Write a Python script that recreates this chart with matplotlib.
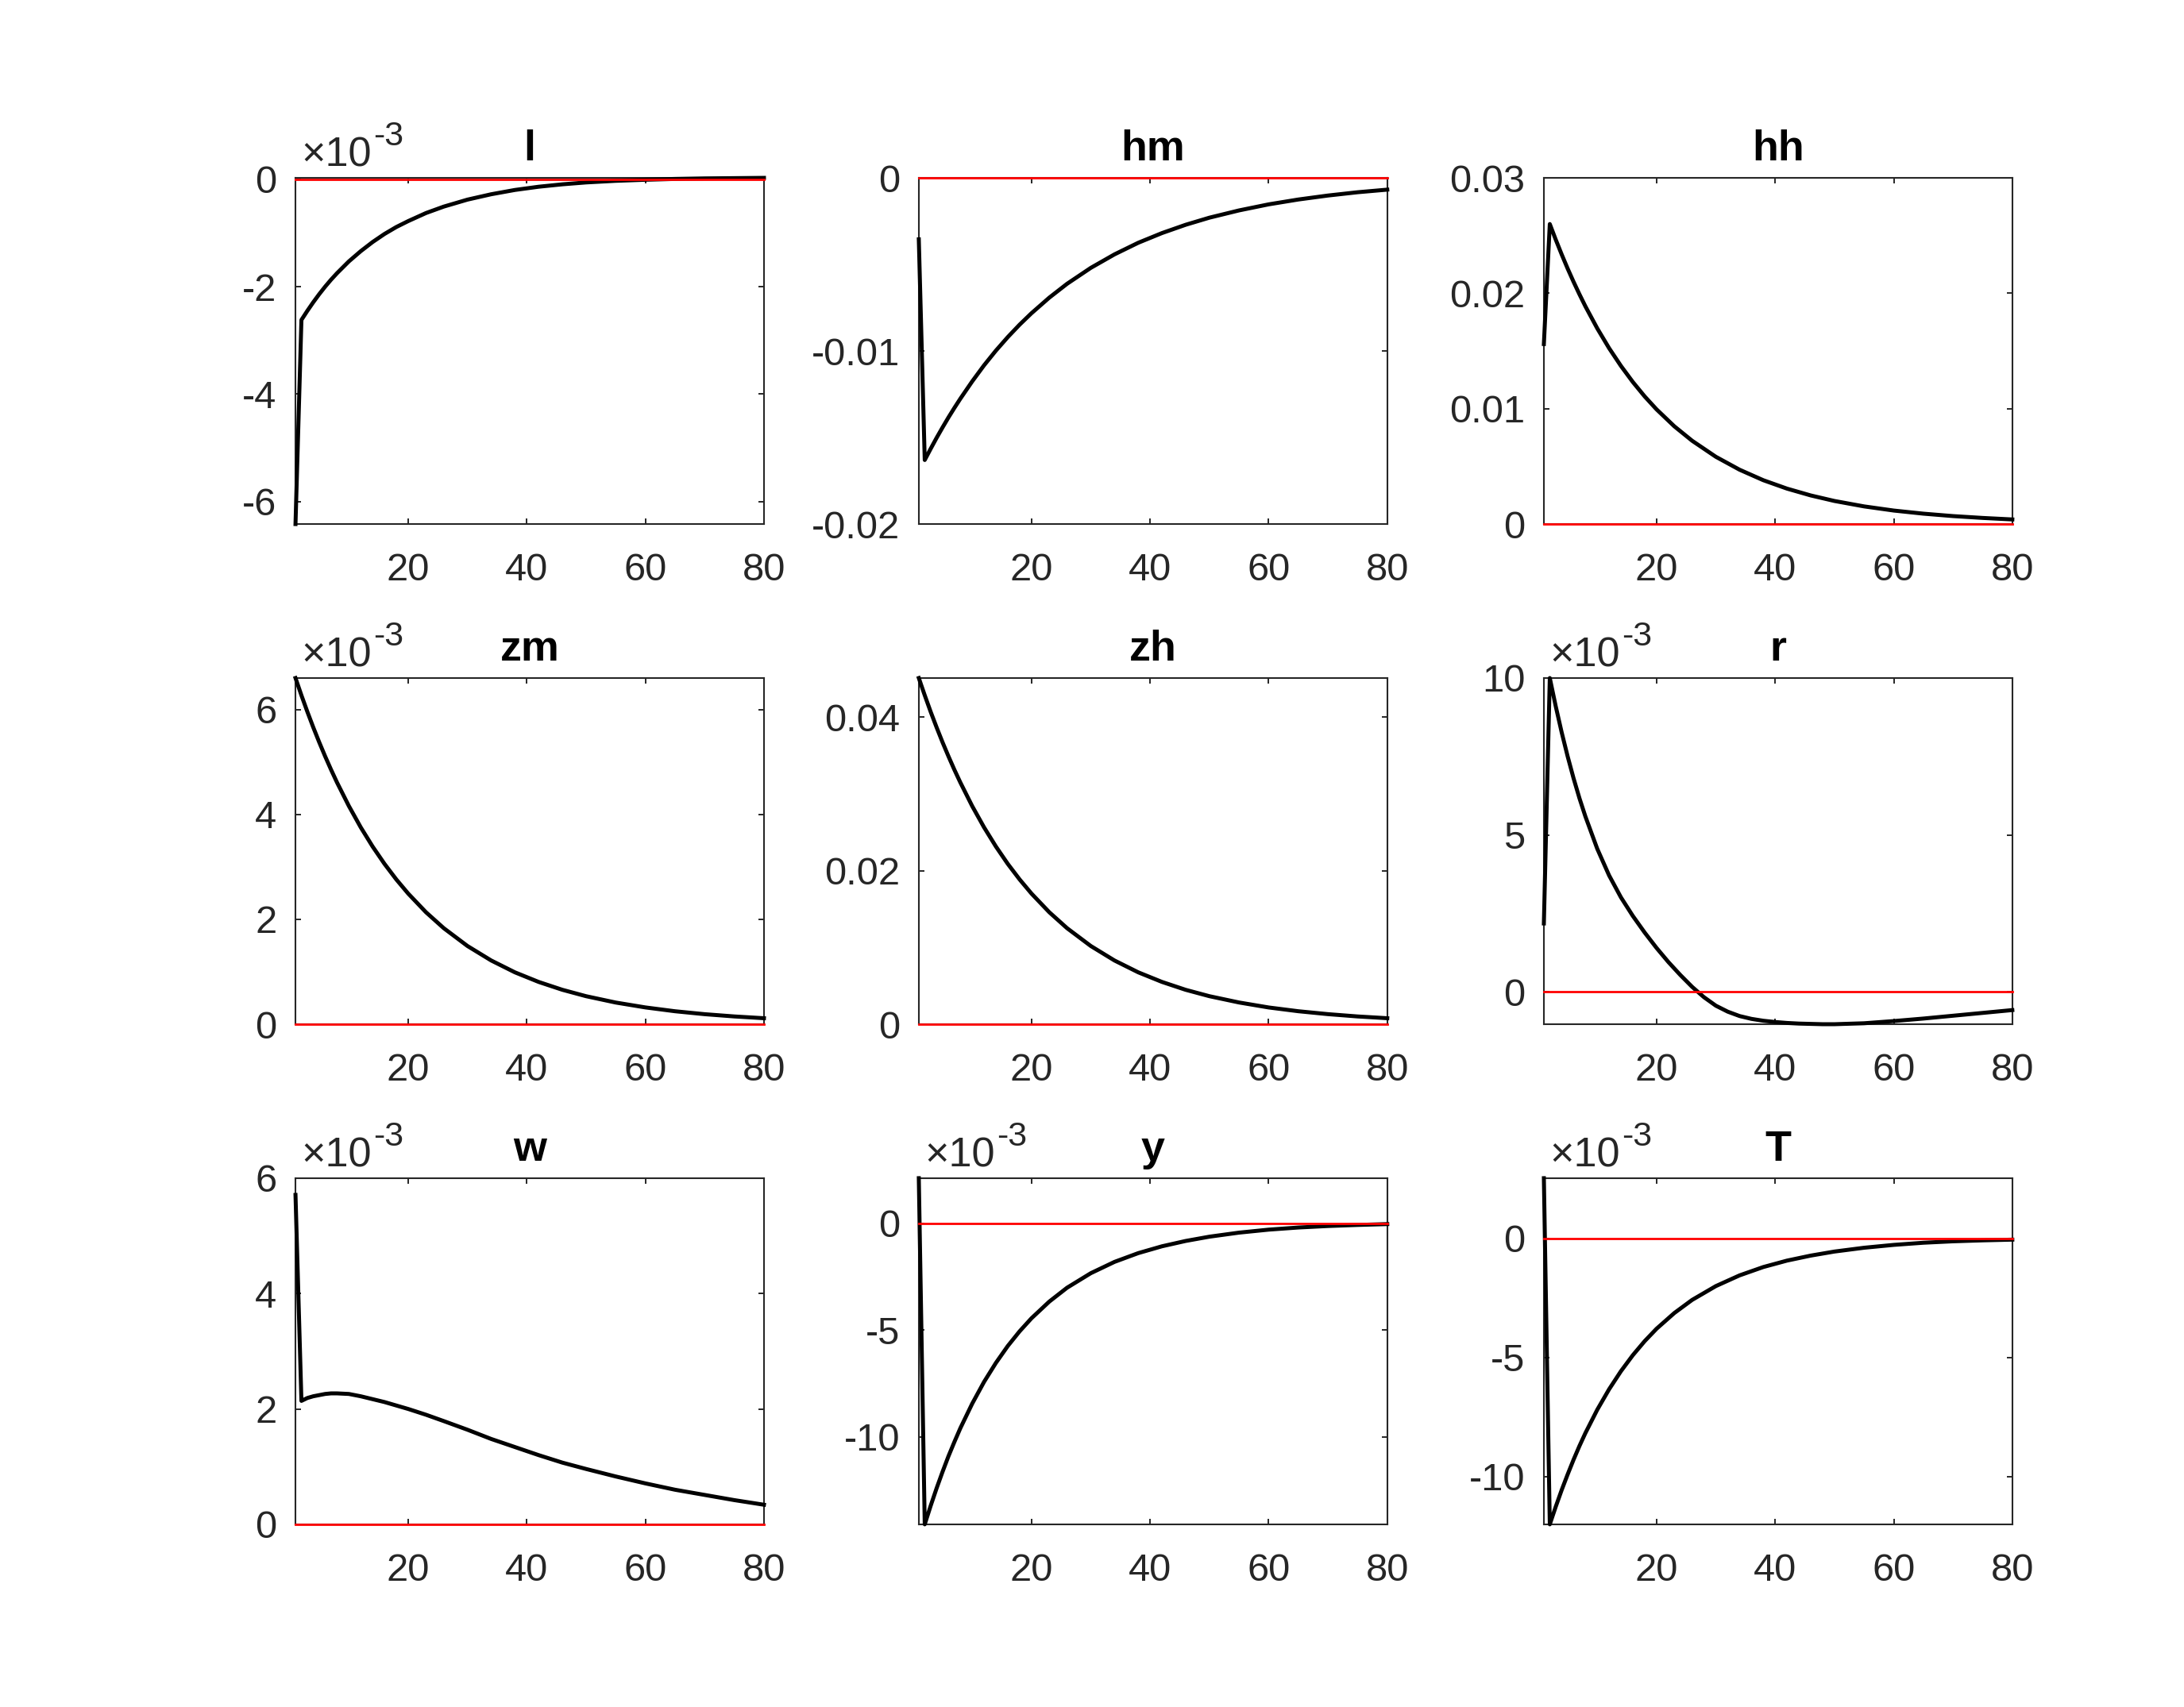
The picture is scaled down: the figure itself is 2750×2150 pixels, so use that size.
import numpy as np
import matplotlib

matplotlib.use("Agg")
import matplotlib.pyplot as plt

plt.rcParams["font.family"] = ["Liberation Sans", "DejaVu Sans"]
plt.rcParams["axes.unicode_minus"] = False

# ---------------------------------------------------------------
# impulse responses read off the picture (sampled periods)
# ---------------------------------------------------------------
PERIODS = [1, 2, 3, 4, 5, 6, 7, 8, 10, 12, 14, 16, 18, 20, 23, 26, 30,
           34, 38, 42, 46, 50, 55, 60, 65, 70, 75, 80]
# r bends more around its trough, so it is read on a denser grid
PERIODS_R = [1, 2, 3, 4, 5, 6, 7, 8, 10, 12, 14, 16, 18, 20, 22, 24, 26, 28,
             30, 32, 34, 36, 38, 40, 42, 44, 46, 48, 50, 55, 60, 65, 70, 75, 80]

NAMES = ["l", "hm", "hh", "zm", "zh", "r", "w", "y", "T"]
# power of ten the values below are given in (0 = plain units)
EXPONENTS = [-3, 0, 0, -3, 0, -3, -3, -3, -3]

IRF_L = [-6.42, -2.62, -2.45, -2.29, -2.14, -2.00, -1.87, -1.75, -1.53, -1.34,
         -1.17, -1.02, -0.89, -0.78, -0.63, -0.51, -0.38, -0.28, -0.20, -0.14,
         -0.095, -0.06, -0.03, -0.01, 0.005, 0.015, 0.02, 0.025]
IRF_HM = [-0.00355, -0.0163, -0.01565, -0.01502, -0.01442, -0.01384, -0.01329,
          -0.01276, -0.01176, -0.01083, -0.00998, -0.00920, -0.00848, -0.00782,
          -0.00692, -0.00612, -0.00520, -0.00442, -0.00375, -0.00319, -0.00271,
          -0.00230, -0.00188, -0.00153, -0.00125, -0.00102, -0.00083, -0.00068]
IRF_HH = [0.0156, 0.0260, 0.02465, 0.02337, 0.02215, 0.02100, 0.01991, 0.01887,
          0.01696, 0.01524, 0.01370, 0.01231, 0.01106, 0.00994, 0.00847, 0.00722,
          0.00583, 0.00471, 0.00380, 0.00307, 0.00248, 0.00200, 0.00153, 0.00117,
          0.00090, 0.00069, 0.00053, 0.00040]
IRF_ZM = [6.600, 6.270, 5.957, 5.659, 5.376, 5.107, 4.852, 4.609, 4.160, 3.754,
          3.388, 3.058, 2.760, 2.491, 2.135, 1.831, 1.491, 1.215, 0.989, 0.806,
          0.656, 0.534, 0.413, 0.320, 0.247, 0.191, 0.148, 0.114]
IRF_ZH = [0.04510, 0.04285, 0.04070, 0.03867, 0.03673, 0.03490, 0.03315, 0.03150,
          0.02842, 0.02565, 0.02315, 0.02089, 0.01886, 0.01702, 0.01459, 0.01251,
          0.01019, 0.00830, 0.00676, 0.00551, 0.00448, 0.00365, 0.00283, 0.00218,
          0.00169, 0.00131, 0.00101, 0.00078]
IRF_R = [2.18, 10.00, 9.10, 8.27, 7.51, 6.81, 6.17, 5.59, 4.56, 3.71, 3.01, 2.42,
         1.89, 1.40, 0.95, 0.54, 0.16, -0.17, -0.44, -0.63, -0.77, -0.86, -0.92,
         -0.96, -0.99, -1.01, -1.02, -1.03, -1.03, -1.00, -0.93, -0.85, -0.76,
         -0.67, -0.58]
IRF_W = [5.71, 2.14, 2.19, 2.22, 2.24, 2.26, 2.27, 2.27, 2.26, 2.22, 2.17, 2.12,
         2.06, 2.00, 1.90, 1.79, 1.64, 1.48, 1.34, 1.20, 1.07, 0.96, 0.83, 0.71,
         0.60, 0.51, 0.42, 0.34]
IRF_Y = [2.11, -14.10, -13.23, -12.41, -11.64, -10.91, -10.24, -9.60, -8.45, -7.43,
         -6.54, -5.75, -5.06, -4.45, -3.67, -3.02, -2.34, -1.81, -1.40, -1.08,
         -0.83, -0.63, -0.44, -0.30, -0.20, -0.13, -0.08, -0.04]
IRF_T = [2.53, -12.00, -11.26, -10.56, -9.91, -9.29, -8.71, -8.17, -7.19, -6.33,
         -5.57, -4.90, -4.31, -3.79, -3.13, -2.58, -2.00, -1.55, -1.20, -0.93,
         -0.72, -0.55, -0.39, -0.27, -0.18, -0.12, -0.08, -0.05]

IRFS = [IRF_L, IRF_HM, IRF_HH, IRF_ZM, IRF_ZH, IRF_R, IRF_W, IRF_Y, IRF_T]
IRF_PERIODS = [PERIODS, PERIODS, PERIODS, PERIODS, PERIODS, PERIODS_R,
               PERIODS, PERIODS, PERIODS]

# y ranges and ticks, in the same units as the lists above
YLIMS = [(-6.42, 0.025), (-0.02, 0.0), (0.0, 0.03), (0.0, 6.6), (0.0, 0.0451),
         (-1.03, 10.0), (0.0, 6.0), (-14.1, 2.11), (-12.0, 2.53)]
YTICKS = [[-6, -4, -2, 0], [-0.02, -0.01, 0], [0, 0.01, 0.02, 0.03], [0, 2, 4, 6],
          [0, 0.02, 0.04], [0, 5, 10], [0, 2, 4, 6], [-10, -5, 0], [-10, -5, 0]]
XTICKS = [20, 40, 60, 80]

# ---------------------------------------------------------------
# layout (MATLAB-like 3x3 subplot grid)
# ---------------------------------------------------------------
AX_LEFT = [0.1353, 0.4207, 0.7069]
AX_BOTTOM = [0.6930, 0.4000, 0.1070]
AX_W, AX_H = 0.2145, 0.2028
AXCOL = "#262626"

fig = plt.figure(figsize=(13.75, 10.75), dpi=200)
fig.patch.set_facecolor("white")

for k, name in enumerate(NAMES):
    row, col = divmod(k, 3)
    ax = fig.add_axes([AX_LEFT[col], AX_BOTTOM[row], AX_W, AX_H])
    scale = 10.0 ** EXPONENTS[k]
    per = IRF_PERIODS[k]

    vals = np.array(IRFS[k]) * scale
    ax.plot(per, vals, color="black", lw=1.8, zorder=3, clip_on=False,
            solid_joinstyle="round")
    ax.plot([per[0], per[-1]], [0, 0], color="red", lw=1.0,
            zorder=3.5, clip_on=False)

    ax.set_xlim(per[0], per[-1])
    ax.set_ylim(YLIMS[k][0] * scale, YLIMS[k][1] * scale)
    ax.set_xticks(XTICKS)
    ax.set_xticklabels([str(t) for t in XTICKS])
    ax.set_yticks(np.array(YTICKS[k]) * scale)
    ax.set_yticklabels([f"{v:g}" for v in YTICKS[k]])

    ax.tick_params(direction="in", length=2.5, width=0.7, color=AXCOL,
                   labelcolor=AXCOL, labelsize=17.6, top=True, right=True)
    ax.tick_params(axis="x", pad=13)
    ax.tick_params(axis="y", pad=8.5)
    for sp in ax.spines.values():
        sp.set_color(AXCOL)
        sp.set_linewidth(0.75)

    ax.set_title(name, fontsize=19.4, fontweight="bold", color="black",
                 pad=7.9, y=1.0)
    if EXPONENTS[k]:
        base = ax.text(0.012, 1.034, "\u00d710", transform=ax.transAxes,
                       fontsize=18.8, color=AXCOL, ha="left", va="baseline")
        ax.annotate(f"{EXPONENTS[k]}", xy=(1.0, 1.0), xycoords=base,
                    xytext=(1.0, 7.0), textcoords="offset points",
                    fontsize=15.5, color=AXCOL, ha="left", va="top")

fig.savefig("out.png", dpi=200, facecolor="white")
